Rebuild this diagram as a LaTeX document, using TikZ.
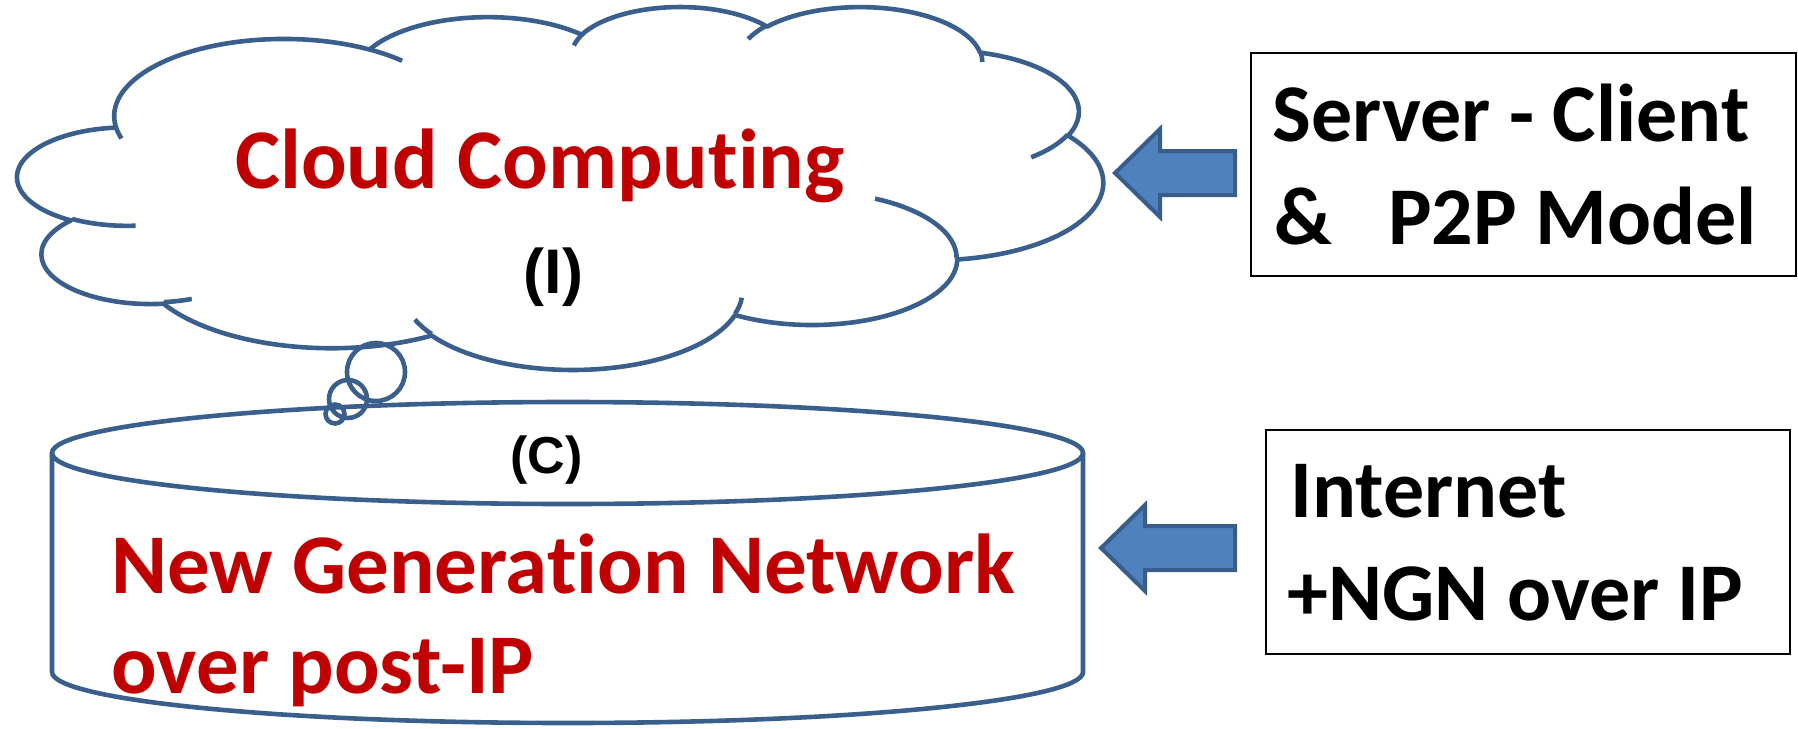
\documentclass[tikz,border=0pt]{standalone}
\usepackage{fontspec}
\setmainfont[Ligatures=NoCommon]{Carlito}
\newfontfamily\tagfont{Liberation Sans}
\usepackage{tikz}

\definecolor{shapeblue}{HTML}{3B5F8C}
\definecolor{arrowfill}{HTML}{4F81BD}
\definecolor{arrowedge}{HTML}{385D8A}
\definecolor{titlered}{HTML}{C00000}

\tikzset{
  outline/.style={draw=shapeblue, line width=2.3pt},
  % one lobe of the cloud: x radius, y radius, start angle, sweep
  puff/.style n args={4}{x radius=#1, y radius=#2,
    start angle={atan2(#1*sin(#3),#2*cos(#3))},
    delta angle={Mod(atan2(#1*sin(#3+#4),#2*cos(#3+#4))-atan2(#1*sin(#3),#2*cos(#3)),360)}},
  blockarrow/.style={draw=arrowedge, fill=arrowfill, line width=2pt, line join=miter},
  textbox/.style={draw, line width=1.1pt, inner sep=0pt},
  bigtext/.style={inner sep=0pt, font=\fontsize{42.5pt}{50pt}\selectfont\bfseries},
  boxtext/.style={inner sep=0pt, anchor=base west, font=\fontsize{41pt}{50pt}\selectfont\bfseries},
}

\begin{document}
\begin{tikzpicture}[x=0.5pt, y=-0.5pt]
  \useasboundingbox (0,0) rectangle (1798,728);

  % the cloud
  \begin{scope}[shift={(17.8,5.85)}, xscale=2.5116, yscale=0.8398]
    \draw[outline, line join=round] (39,143.7)
      arc[puff={67.53}{91.90}{-190.4875}{123.7805}]
      arc[puff={53.33}{72.67}{-144.1024}{89.9452}]
      arc[puff={43.65}{59.45}{-145.8079}{99.7230}]
      arc[puff={48.57}{65.95}{-130.9861}{117.2417}]
      arc[puff={53.33}{72.73}{-78.7089}{109.0269}]
      arc[puff={67.75}{92.20}{-46.2673}{130.2690}]
      arc[puff={57.85}{78.67}{0.6250}{114.0333}]
      arc[puff={67.52}{92.15}{22.4516}{115.1726}]
      arc[puff={77.20}{105.43}{66.2426}{75.7110}]
      arc[puff={43.60}{59.18}{-274.9421}{146.7356}]
      arc[puff={43.45}{59.45}{-246.8285}{152.5189}] -- cycle;
    \draw[outline]
      (46.93,261.77) arc[puff={43.45}{59.45}{86.7420}{26.4295}]
      (69.28,348.99) arc[puff={43.60}{59.18}{73.6105}{11.4475}]
      (164.78,390.90) arc[puff={67.52}{92.15}{137.6242}{14.0811}]
      (288.27,347.51) arc[puff={67.52}{92.15}{6.4533}{15.9984}]
      (341.29,229.54) arc[puff={57.85}{78.67}{-70.2924}{70.9174}]
      (417.98,153.54) arc[puff={53.33}{72.73}{30.3180}{27.7515}]
      (383.24,54.26) arc[puff={48.57}{65.95}{-13.7443}{14.8589}]
      (290.78,39.52) arc[puff={48.57}{65.95}{-149.1815}{18.1954}]
      (221.41,47.20) arc[puff={43.65}{59.45}{-163.4943}{17.6864}]
      (140.00,51.92) arc[puff={67.53}{91.90}{-66.7070}{12.3194}]
      (41.27,157.89) arc[puff={67.53}{91.90}{157.6544}{11.8582}];
  \end{scope}

  % the cylinder
  \draw[outline] (567.5,453) ellipse[x radius=515.5, y radius=51];
  \draw[outline, line join=round] (52,453) -- (52,672)
    arc[start angle=180, end angle=0, x radius=515.5, y radius=51] -- (1083,453);

  % thought bubbles
  \foreach \cx/\cy/\r in {376/372/29, 348/399/19, 335/414/9.5}
    \draw[outline] (\cx,\cy) circle[radius=\r];

  % boxes on the right
  \node[textbox, minimum width=272.5pt, minimum height=111.5pt] (srvbox) at (1523.5,164.5) {};
  \node[textbox, minimum width=262pt, minimum height=112pt] (netbox) at (1528,542) {};

  % block arrows
  \coordinate (cloudtip) at (1115,173);
  \coordinate (cantip) at (1101,548);
  \draw[blockarrow] (cloudtip) -- ++(45,-44) -- ++(0,22) -- ++(75,0) -- ++(0,44)
    -- ++(-75,0) -- ++(0,22) -- cycle;
  \draw[blockarrow] (cantip) -- ++(44,-43) -- ++(0,21) -- ++(90,0) -- ++(0,44)
    -- ++(-90,0) -- ++(0,21) -- cycle;

  % labels
  \node[bigtext, text=titlered, anchor=base] (cloudname) at (540,188) {Cloud Computing};
  \node[inner sep=0pt, anchor=base, font=\tagfont\fontsize{31.5pt}{36pt}\selectfont\bfseries] (cloudtag) at (553.5,293) {(I)};
  \node[inner sep=0pt, anchor=base, font=\tagfont\fontsize{26pt}{30pt}\selectfont\bfseries] (cantag) at (546.5,473) {(C)};
  \node[bigtext, text=titlered, anchor=base west] (ngnone) at (111,593) {New Generation Network};
  \node[bigtext, text=titlered, anchor=base west] (ngntwo) at (111,693) {over post-IP};

  \node[boxtext] (srvone) at (1272,141) {Server - Client};
  \node[boxtext] (srvtwo) at (1274,244) {\&\hspace{28pt}P2P Model};
  \node[boxtext] (netone) at (1290,517) {Internet};
  \node[boxtext] (nettwo) at (1287,620) {+NGN over IP};
\end{tikzpicture}
\end{document}
